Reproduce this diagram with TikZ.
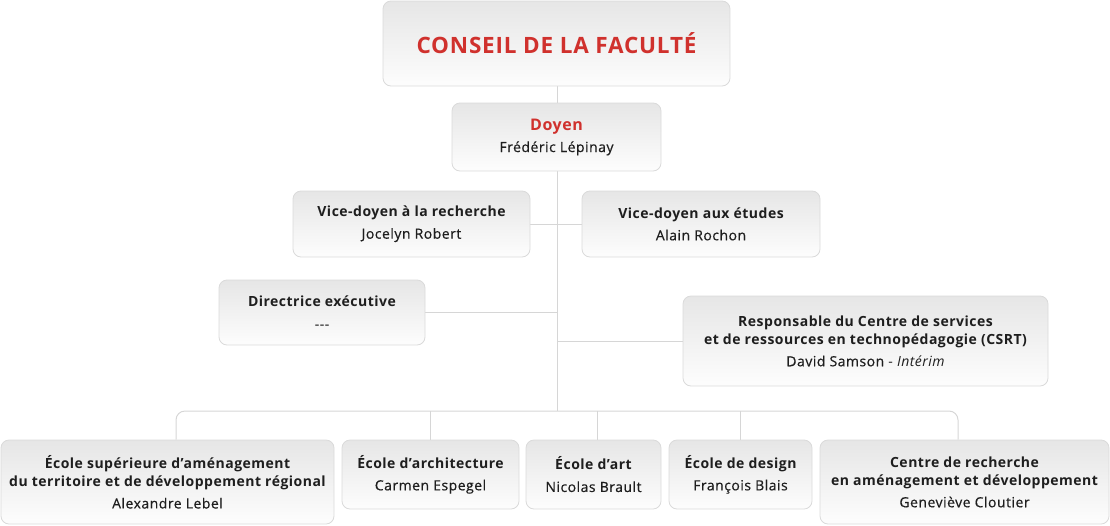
\documentclass[tikz,border=0pt]{standalone}
\usepackage{fontspec}
\setmainfont{Open Sans}[LetterSpace=3.5]
\newfontfamily\medfont{Open Sans}[LetterSpace=3.5, FakeBold=0.5]
\usetikzlibrary{backgrounds}
\definecolor{redtxt}{HTML}{D0312D}
\definecolor{boxtop}{HTML}{E6E6E6}
\definecolor{boxbot}{HTML}{FDFDFD}
\definecolor{boxline}{HTML}{DADADA}
\definecolor{wire}{HTML}{D6D6D6}
\definecolor{ink}{HTML}{1E1E1E}
\tikzset{
  box/.style={draw=boxline, line width=0.8pt, rounded corners=8pt, top color=boxtop, bottom color=boxbot,
    align=center, inner sep=0pt, text=ink, font=\fontsize{14}{18}\selectfont},
  wireline/.style={draw=wire, line width=1pt},
}
\newcommand{\tl}[1]{{\bfseries #1}}
\newcommand{\nm}[1]{{\medfont #1}}
\begin{document}
\begin{tikzpicture}[x=1pt,y=-1pt]
\useasboundingbox (0,0) rectangle (1110,525);
% top boxes
\node[box, minimum width=347pt, minimum height=85pt] (conseil) at (556.5,43.5)
  {\fontsize{22.5}{26}\selectfont\bfseries\color{redtxt}CONSEIL DE LA FACULTÉ};
\node[box, minimum width=209pt, minimum height=68pt] (doyen) at (556.5,137)
  {{\fontsize{16}{18}\selectfont\bfseries\color{redtxt}Doyen}\\[4pt]\nm{Frédéric Lépinay}};
\node[box, minimum width=237pt, minimum height=66pt] (vdr) at (411.5,224)
  {\tl{Vice-doyen à la recherche}\\[4pt]\nm{Jocelyn Robert}};
\node[box, minimum width=238pt, minimum height=66pt] (vde) at (701,224)
  {\tl{Vice-doyen aux études}\\[4pt]\nm{Alain Rochon}};
\node[box, minimum width=206pt, minimum height=65pt] (dir) at (322,312.5)
  {\tl{Directrice exécutive}\\[4pt]\nm{-{}-{}-}};
\node[box, minimum width=365pt, minimum height=90pt] (csrt) at (865.5,341)
  {\tl{Responsable du Centre de services}\\
   \tl{et de ressources en technopédagogie (CSRT)}\\[4pt]
   \nm{David Samson} - {\itshape Intérim}};
% bottom boxes
\node[box, minimum width=333pt, minimum height=84pt] (esad) at (167.5,482)
  {\tl{École supérieure d'aménagement}\\
   \tl{du territoire et de développement régional}\\[4pt]
   \nm{Alexandre Lebel}};
\node[box, minimum width=177pt, minimum height=69pt] (archi) at (430.5,474.5)
  {\tl{École d’architecture}\\[4pt]\nm{Carmen Espegel}};
\node[box, minimum width=135pt, minimum height=69pt] (art) at (593.5,474.5)
  {\tl{École d’art}\\[4pt]\nm{Nicolas Brault}};
\node[box, minimum width=143pt, minimum height=69pt] (design) at (740.5,474.5)
  {\tl{École de design}\\[4pt]\nm{François Blais}};
\node[box, minimum width=289pt, minimum height=84pt] (crad) at (964.5,482)
  {\tl{Centre de recherche}\\
   \tl{en aménagement et développement}\\[4pt]
   \nm{Geneviève Cloutier}};
% bus coordinates
\coordinate (hub) at (557,411);
\coordinate (b1) at (176,411);
\coordinate (b2) at (430,411);
\coordinate (b3) at (597,411);
\coordinate (b4) at (740,411);
\coordinate (b5) at (958,411);
\begin{scope}[on background layer]
  \draw[wireline] (conseil.south -| hub) -- (hub);
  \draw[wireline] (vdr.east) -- (vde.west);
  \draw[wireline] (dir.east) -- (dir.east -| hub);
  \draw[wireline] (csrt.west) -- (csrt.west -| hub);
  \draw[wireline, rounded corners=9pt] (esad.north -| b1) |- (b5) -- (crad.north -| b5);
  \draw[wireline] (b2) -- (archi.north -| b2);
  \draw[wireline] (b3) -- (art.north -| b3);
  \draw[wireline] (b4) -- (design.north -| b4);
\end{scope}
\end{tikzpicture}
\end{document}
